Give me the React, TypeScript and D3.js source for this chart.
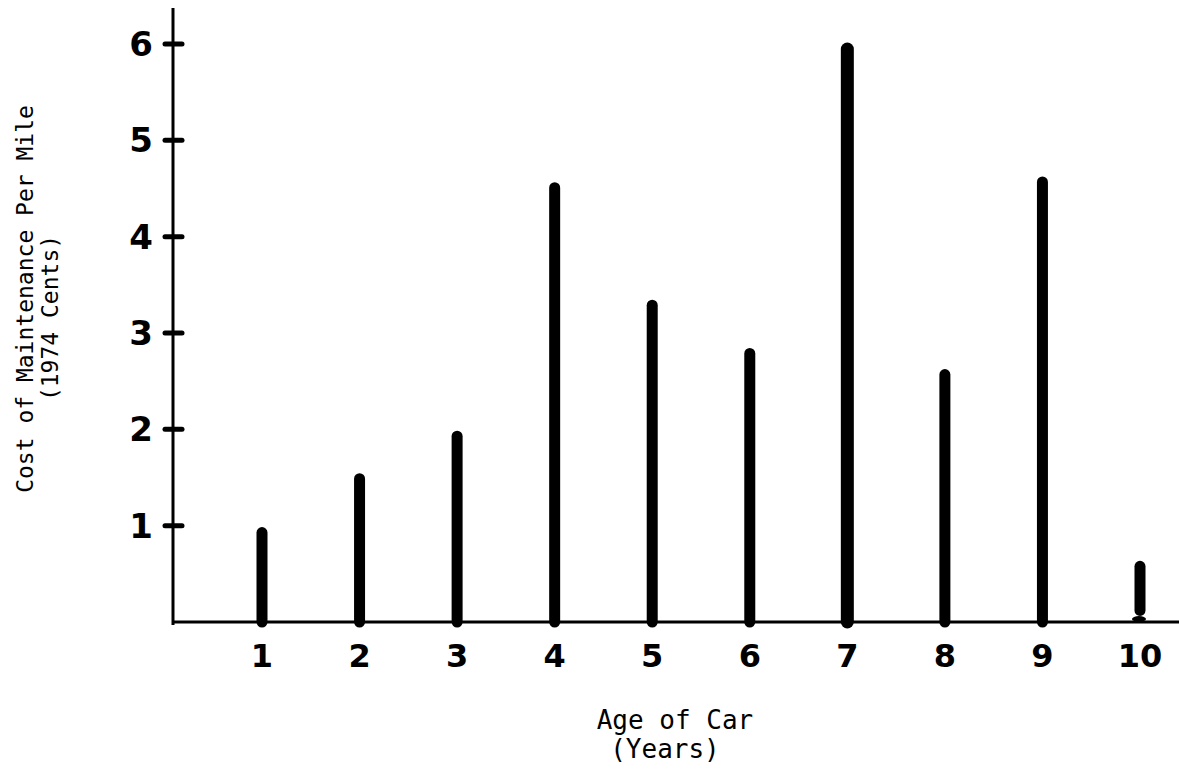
import React from "react";
import * as d3 from "d3";

// Age of car (years) and maintenance cost per mile (1974 cents)
const ages: number[] = [1, 2, 3, 4, 5, 6, 7, 8, 9, 10];
const costs: number[] = [0.98, 1.54, 1.98, 4.56, 3.34, 2.84, 6.0, 2.62, 4.62, 0.63];
const yTicks: number[] = [1, 2, 3, 4, 5, 6];
const xTickLabels: string[] = ["1", "2", "3", "4", "5", "6", "7", "8", "9", "10"];

const W = 1179;
const H = 771;

export default function App() {
  const x = d3.scaleLinear().domain([1, 10]).range([262, 1140]);
  const y = d3.scaleLinear().domain([0, 6]).range([622, 44]);

  const axisX0 = 173;
  const inkFont = "'DejaVu Sans', sans-serif";
  const monoFont = "'DejaVu Sans Mono', monospace";

  return (
    <svg
      width={W}
      height={H}
      viewBox={`0 0 ${W} ${H}`}
      style={{ position: "absolute", left: 0, top: 0, background: "#fff" }}
    >
      {/* axes */}
      <line x1={axisX0} y1={8} x2={axisX0} y2={y(0) + 3} stroke="#000" strokeWidth={3} />
      <line x1={axisX0 - 1} y1={y(0)} x2={W} y2={y(0)} stroke="#000" strokeWidth={3} />

      {/* y ticks and labels */}
      {yTicks.map((t) => (
        <g key={t}>
          <line
            x1={axisX0 - 8}
            x2={axisX0 + 9}
            y1={y(t)}
            y2={y(t)}
            stroke="#000"
            strokeWidth={5}
            strokeLinecap="round"
          />
          <text
            x={141}
            y={y(t)}
            textAnchor="middle"
            dominantBaseline="central"
            fontFamily={inkFont}
            fontWeight="bold"
            fontSize={34}
          >
            {t}
          </text>
        </g>
      ))}

      {/* bars drawn as thick strokes */}
      {ages.map((a, i) => {
        const top = y(costs[i]);
        if (a === 10) {
          return (
            <g key={a}>
              <line
                x1={x(a)}
                x2={x(a)}
                y1={y(0.12)}
                y2={top + 5}
                stroke="#000"
                strokeWidth={11}
                strokeLinecap="round"
              />
              <ellipse cx={x(a) - 1} cy={y(0) - 3} rx={7} ry={3} fill="#000" />
            </g>
          );
        }
        return (
          <line
            key={a}
            x1={x(a)}
            x2={x(a)}
            y1={y(0)}
            y2={top + 5}
            stroke="#000"
            strokeWidth={a === 7 ? 13 : 11}
            strokeLinecap="round"
          />
        );
      })}

      {/* x tick labels */}
      {ages.map((a, i) => (
        <text
          key={a}
          x={x(a)}
          y={656}
          textAnchor="middle"
          dominantBaseline="central"
          fontFamily={inkFont}
          fontWeight="bold"
          fontSize={32}
        >
          {xTickLabels[i]}
        </text>
      ))}

      {/* axis titles */}
      <text x={675} y={729} textAnchor="middle" fontFamily={monoFont} fontSize={26}>
        Age of Car
      </text>
      <text x={665} y={758} textAnchor="middle" fontFamily={monoFont} fontSize={26}>
        (Years)
      </text>

      <text
        transform={`translate(33, 299) rotate(-90)`}
        textAnchor="middle"
        fontFamily={monoFont}
        fontSize={23}
      >
        Cost of Maintenance Per Mile
      </text>
      <text
        transform={`translate(58, 318) rotate(-90)`}
        textAnchor="middle"
        fontFamily={monoFont}
        fontSize={23}
      >
        (1974 Cents)
      </text>
    </svg>
  );
}
